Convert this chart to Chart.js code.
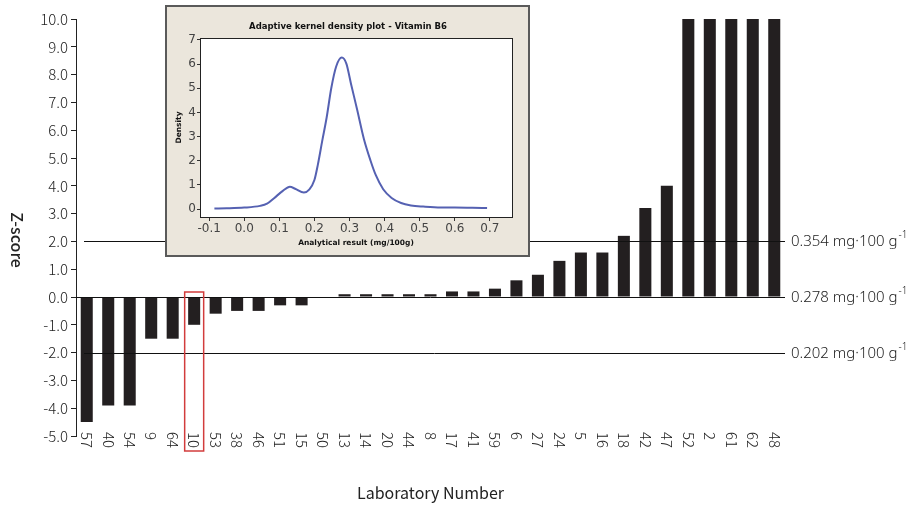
<!DOCTYPE html>
<html>
<head>
<meta charset="utf-8">
<script src="https://cdn.jsdelivr.net/npm/chart.js@4.4.0/dist/chart.umd.min.js"></script>
<style>
  body { margin: 0; background: #fff; }
  #wrap { position: relative; width: 923px; height: 505px; }
  #main { position: absolute; left: 0; top: 0; }
  #insetBox { position: absolute; left: 165px; top: 5px; width: 361px; height: 248px;
              background: #ebe6dc; border: 2px solid #5a5a5a; }
  #inset { position: absolute; left: 0; top: 0; }
</style>
</head>
<body>
<div id="wrap">
  <canvas id="main" width="923" height="505"></canvas>
  <div id="insetBox"><canvas id="inset" width="361" height="248"></canvas></div>
</div>
<script>
// Lab numbers, in plotted order
const labs = ['57','40','54','9','64','10','53','38','46','51','15','50','13','14','20','44','8',
              '17','41','59','6','27','24','5','16','18','42','47','52','2','61','62','48'];
// z-scores (bars at 10 are capped)
const zScores = [-4.5,-3.9,-3.9,-1.5,-1.5,-1.0,-0.6,-0.5,-0.5,-0.3,-0.3,0,0.1,0.1,0.1,0.1,0.1,
                 0.2,0.2,0.3,0.6,0.8,1.3,1.6,1.6,2.2,3.2,4.0,10,10,10,10,10];
// reference levels and their concentrations
const refZ = [2, 0, -2];
const refText = ['0.354 mg\u00b7100 g', '0.278 mg\u00b7100 g', '0.202 mg\u00b7100 g'];
const markedLab = '10';

// inset: adaptive kernel density curve
const densX = [-0.085,-0.05,0.0,0.045,0.065,0.085,0.11,0.13,0.145,0.17,0.185,0.2,0.21,0.222,0.235,
               0.248,0.262,0.278,0.291,0.304,0.322,0.341,0.36,0.375,0.396,0.42,0.447,0.475,0.51,
               0.56,0.6,0.65,0.692];
const densY = [0.02,0.03,0.06,0.13,0.22,0.45,0.75,0.92,0.84,0.68,0.8,1.2,1.85,2.8,3.8,
               5.0,5.9,6.27,6.02,5.2,4.1,2.9,2.0,1.4,0.82,0.46,0.25,0.15,0.1,
               0.06,0.06,0.05,0.04];

const FONT = '"Noto Sans CJK KR", "Noto Sans", sans-serif';
const INK = '#222';

// draws the reference lines, labels and the rotated text
const decor = {
  id: 'decor',
  afterDatasetsDraw(chart) {
    const ctx = chart.ctx;
    const area = chart.chartArea;
    const x = chart.scales.x, y = chart.scales.y;
    ctx.save();
    ctx.strokeStyle = '#111';
    ctx.lineWidth = 1;
    refZ.forEach((z, i) => {
      const py = Math.round(y.getPixelForValue(z)) + 0.5;
      ctx.beginPath();
      ctx.moveTo(z === 0 ? area.left : area.left + 8, py);
      ctx.lineTo(area.right, py);
      ctx.stroke();
      ctx.fillStyle = INK;
      ctx.font = '300 15px "Noto Sans", sans-serif';
      ctx.textAlign = 'left';
      ctx.textBaseline = 'middle';
      ctx.fillText(refText[i], area.right + 6, py);
      const w = ctx.measureText(refText[i]).width;
      ctx.font = '300 10px "Noto Sans", sans-serif';
      ctx.fillText('-1', area.right + 7 + w, py - 6);
    });

    // lab numbers, turned clockwise
    ctx.fillStyle = INK;
    ctx.font = '300 15px ' + FONT;
    labs.forEach((lab, i) => {
      const px = x.getPixelForValue(i);
      ctx.save();
      ctx.translate(px, 432);
      ctx.rotate(Math.PI / 2);
      ctx.textAlign = 'left';
      ctx.textBaseline = 'middle';
      ctx.fillText(lab, 0, 0);
      ctx.restore();
    });

    // red box round the marked lab
    const k = labs.indexOf(markedLab);
    const bx = x.getPixelForValue(k);
    ctx.strokeStyle = '#d23c3c';
    ctx.lineWidth = 1.5;
    ctx.strokeRect(bx - 9.5, y.getPixelForValue(0) - 5, 19, 159);

    // axis titles
    ctx.fillStyle = INK;
    ctx.font = '500 16px ' + FONT;
    ctx.save();
    ctx.translate(17, 240);
    ctx.rotate(Math.PI / 2);
    ctx.textAlign = 'center';
    ctx.textBaseline = 'middle';
    ctx.fillText('Z-score', 0, 0);
    ctx.restore();

    ctx.font = '16px ' + FONT;
    ctx.textAlign = 'center';
    ctx.textBaseline = 'middle';
    ctx.fillText('Laboratory Number', (area.left + area.right) / 2, 493);
    ctx.restore();
  }
};

new Chart(document.getElementById('main'), {
  type: 'bar',
  data: {
    labels: labs,
    datasets: [{
      data: zScores,
      backgroundColor: '#231f20',
      barPercentage: 0.56,
      categoryPercentage: 1
    }]
  },
  options: {
    responsive: false,
    animation: false,
    layout: { padding: { left: 0, right: 138, top: 19, bottom: 69 } },
    plugins: { legend: { display: false }, tooltip: { enabled: false } },
    scales: {
      x: {
        offset: true,
        grid: { display: false },
        border: { display: false },
        ticks: { display: false },
        afterFit(s) { s.height = 0; }
      },
      y: {
        min: -5, max: 10,
        ticks: {
          stepSize: 1, color: INK, padding: 3,
          font: { family: FONT, size: 15, weight: 300 },
          callback: v => v.toFixed(1)
        },
        grid: { drawOnChartArea: false, tickLength: 5, color: INK },
        border: { display: true, color: INK },
        afterFit(s) { s.width = 76; }
      }
    }
  },
  plugins: [decor]
});

// inset: frame, white plot area and titles
const insetDecor = {
  id: 'insetDecor',
  beforeDatasetsDraw(chart) {
    const a = chart.chartArea, ctx = chart.ctx;
    ctx.save();
    ctx.fillStyle = '#fff';
    ctx.fillRect(a.left, a.top, a.right - a.left, a.bottom - a.top);
    ctx.restore();
  },
  afterDraw(chart) {
    const a = chart.chartArea, ctx = chart.ctx;
    ctx.save();
    ctx.strokeStyle = '#222';
    ctx.lineWidth = 1;
    ctx.strokeRect(a.left + 0.5, a.top + 0.5, a.right - a.left, a.bottom - a.top);
    ctx.fillStyle = '#111';
    ctx.textAlign = 'center';
    ctx.textBaseline = 'middle';
    ctx.font = 'bold 8.5px "DejaVu Sans", sans-serif';
    ctx.fillText('Adaptive kernel density plot - Vitamin B6', 181, 20);
    ctx.font = 'bold 7.5px "DejaVu Sans", sans-serif';
    ctx.fillText('Analytical result (mg/100g)', (a.left + a.right) / 2, 236);
    ctx.translate(12, (a.top + a.bottom) / 2);
    ctx.rotate(-Math.PI / 2);
    ctx.fillText('Density', 0, 0);
    ctx.restore();
  }
};

new Chart(document.getElementById('inset'), {
  type: 'line',
  data: {
    datasets: [{
      data: densX.map((v, i) => ({ x: v, y: densY[i] })),
      borderColor: '#5561b2',
      borderWidth: 2,
      pointRadius: 0,
      cubicInterpolationMode: 'monotone',
      fill: false
    }]
  },
  options: {
    responsive: false,
    animation: false,
    layout: { padding: { left: 3, right: 16, top: 31, bottom: 8 } },
    plugins: { legend: { display: false }, tooltip: { enabled: false } },
    scales: {
      x: {
        type: 'linear', min: -0.126, max: 0.763,
        afterBuildTicks(s) { s.ticks = [-0.1,0,0.1,0.2,0.3,0.4,0.5,0.6,0.7].map(v => ({ value: v })); },
        ticks: { color: '#444', padding: 1, font: { family: '"DejaVu Sans", sans-serif', size: 12 },
                 callback: v => v.toFixed(1) },
        grid: { drawOnChartArea: false, tickLength: 4, color: '#333' },
        border: { display: false },
        afterFit(s) { s.height = 30; }
      },
      y: {
        min: -0.33, max: 7.08,
        afterBuildTicks(s) { s.ticks = [0,1,2,3,4,5,6,7].map(v => ({ value: v })); },
        ticks: { color: '#444', padding: 1, font: { family: '"DejaVu Sans", sans-serif', size: 12 } },
        grid: { drawOnChartArea: false, tickLength: 3, color: '#333' },
        border: { display: false },
        afterFit(s) { s.width = 30; }
      }
    }
  },
  plugins: [insetDecor]
});
</script>
</body>
</html>
